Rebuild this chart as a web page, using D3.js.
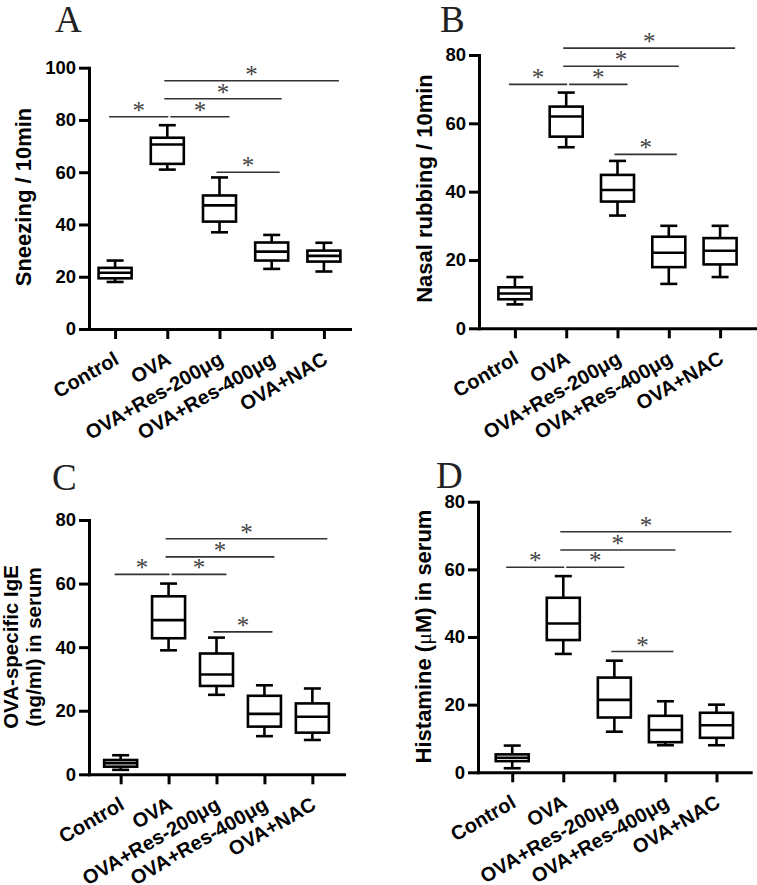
<!DOCTYPE html>
<html>
  <head>
    <meta charset="UTF-8">
    <title>Box plots A-D</title>
    <script src="https://d3js.org/d3.v7.min.js"></script>
    <style>
      body { margin: 0; background: #fff; }
      svg { display: block; }
    </style>
  </head>
  <body>
    <div id="chart"></div>
    <script>
      // Groups and tick values
      const categories = ["Control", "OVA", "OVA+Res-200μg", "OVA+Res-400μg", "OVA+NAC"];
      const ticks100 = [0, 20, 40, 60, 80, 100];
      const ticks80 = [0, 20, 40, 60, 80];

      // Box stats per group: [min, q1, median, q3, max]
      const sneezing = [
        [18, 19.4, 21.5, 23.4, 26.2],
        [61, 63.2, 70.6, 73.2, 78],
        [37, 41.1, 47.3, 51.1, 58],
        [23, 26.2, 29.6, 33.1, 36],
        [22, 25.8, 28, 30, 33]
      ];
      const rubbing = [
        [7, 8.5, 10.2, 12, 15],
        [53, 56.1, 62, 64.9, 69],
        [33, 37.1, 40.5, 44.9, 49],
        [13, 17.9, 22.1, 26.8, 30],
        [15, 18.7, 22.7, 26.4, 30]
      ];
      const ige = [
        [1.4, 2.4, 3.5, 4.5, 6],
        [39, 42.8, 48.5, 56, 60],
        [25, 27.8, 31.4, 38, 43],
        [12, 15, 19, 24.7, 28],
        [10.8, 13.1, 18.1, 22.3, 27]
      ];
      const histamine = [
        [1.2, 3.3, 4.3, 5.3, 7.9],
        [35, 39.1, 44, 51.6, 58],
        [12, 16.2, 21.4, 28, 33],
        [8, 8.9, 12.5, 16.7, 21],
        [8, 10.2, 13.9, 17.6, 20]
      ];

      // Significance bars: [group a, group b, bar level]
      const sigSneezing = [[0, 1, 81.2], [1, 2, 81.2], [1, 3, 88.1], [1, 4, 95], [2, 3, 60]];
      const sigRubbing = [[0, 1, 71.4], [1, 2, 71.4], [1, 3, 76.7], [1, 4, 82], [2, 3, 50.9]];
      const sigIge = [[0, 1, 62.9], [1, 2, 62.9], [1, 3, 68.4], [1, 4, 74.1], [2, 3, 44.8]];
      const sigHistamine = [[0, 1, 60.6], [1, 2, 60.6], [1, 3, 65.7], [1, 4, 71.1], [2, 3, 35.7]];

      const svg = d3.select("#chart")
        .append("svg")
        .attr("width", 757)
        .attr("height", 885);

      const panels = [
        { letter: "A", stats: sneezing, sig: sigSneezing, ticks: ticks100, max: 100,
          x0: 89, x1: 350, yTop: 67.7, yBot: 329, pad: 0.5,
          label: ["Sneezing / 10min"], lx: 31, ly: 197, px: 55, py: 32 },
        { letter: "B", stats: rubbing, sig: sigRubbing, ticks: ticks80, max: 80,
          x0: 479, x1: 756, yTop: 55, yBot: 328.3, pad: 0.7,
          label: ["Nasal rubbing / 10min"], lx: 432, ly: 188.5, px: 440, py: 32 },
        { letter: "C", stats: ige, sig: sigIge, ticks: ticks80, max: 80,
          x0: 89, x1: 344, yTop: 520, yBot: 774.3, pad: 0.66,
          label: ["OVA-specific IgE", "(ng/ml) in serum"], lx: 18, ly: 647, px: 52, py: 490 },
        { letter: "D", stats: histamine, sig: sigHistamine, ticks: ticks80, max: 80,
          x0: 478, x1: 750.7, yTop: 501.7, yBot: 772.3, pad: 0.67,
          label: null, lx: 431, ly: 636.5, px: 436, py: 488 }
      ];

      panels.forEach(p => {
        const g = svg.append("g");

        const x = d3.scalePoint().domain(categories).range([p.x0, p.x1]).padding(p.pad);
        const y = d3.scaleLinear().domain([0, p.max]).range([p.yBot, p.yTop]);

        // Panel letter
        g.append("text")
          .attr("x", p.px).attr("y", p.py)
          .attr("font-family", "Liberation Serif, serif")
          .attr("font-size", 37)
          .attr("fill", "#222")
          .text(p.letter);

        // Y axis
        const yAxis = g.append("g")
          .attr("transform", `translate(${p.x0},0)`)
          .call(d3.axisLeft(y).tickValues(p.ticks).tickSize(10).tickSizeOuter(0).tickPadding(3));
        yAxis.selectAll("text")
          .attr("font-family", "Liberation Sans, Arial, sans-serif")
          .attr("font-weight", "bold")
          .attr("font-size", 18.5)
          .attr("fill", "#000");

        // X axis
        const xAxis = g.append("g")
          .attr("transform", `translate(0,${p.yBot})`)
          .call(d3.axisBottom(x).tickSize(10).tickSizeOuter(0).tickFormat(""));

        [yAxis, xAxis].forEach(a => {
          a.select(".domain").attr("stroke", "#000").attr("stroke-width", 3).attr("stroke-linecap", "square");
          a.selectAll(".tick line").attr("stroke", "#000").attr("stroke-width", 3);
        });

        // Rotated group labels
        g.selectAll(".xlab")
          .data(categories)
          .enter()
          .append("text")
          .attr("class", "xlab")
          .attr("transform", d => `translate(${x(d) + 5},${p.yBot + 34}) rotate(-30)`)
          .attr("text-anchor", "end")
          .attr("font-family", "Liberation Sans, Arial, sans-serif")
          .attr("font-weight", "bold")
          .attr("font-size", 20)
          .attr("fill", "#000")
          .text(d => d);

        // Y label
        const yl = g.append("text")
          .attr("transform", `translate(${p.lx},${p.ly}) rotate(-90)`)
          .attr("text-anchor", "middle")
          .attr("font-family", "Liberation Sans, Arial, sans-serif")
          .attr("font-weight", "bold")
          .attr("font-size", p.label && p.label.length > 1 ? 20.5 : 22)
          .attr("fill", "#000");
        if (p.label) {
          p.label.forEach((line, i) => {
            yl.append("tspan").attr("x", 0).attr("y", i * 23).text(line);
          });
        } else {
          yl.append("tspan").text("Histamine (");
          yl.append("tspan").attr("font-family", "Liberation Serif, serif").attr("font-weight", "normal").text("μ");
          yl.append("tspan").text("M) in serum");
        }

        // Boxes
        const boxW = 33, capW = 17;
        const box = g.selectAll(".box")
          .data(p.stats)
          .enter()
          .append("g")
          .attr("class", "box")
          .attr("transform", (d, i) => `translate(${x(categories[i])},0)`)
          .attr("stroke", "#000")
          .attr("stroke-width", 2.6)
          .attr("fill", "none");

        box.append("line")
          .attr("x1", 0).attr("x2", 0)
          .attr("y1", d => y(d[0])).attr("y2", d => y(d[4]));
        box.append("line")
          .attr("x1", -capW / 2).attr("x2", capW / 2)
          .attr("y1", d => y(d[0])).attr("y2", d => y(d[0]));
        box.append("line")
          .attr("x1", -capW / 2).attr("x2", capW / 2)
          .attr("y1", d => y(d[4])).attr("y2", d => y(d[4]));
        box.append("rect")
          .attr("x", -boxW / 2)
          .attr("width", boxW)
          .attr("y", d => y(d[3]))
          .attr("height", d => y(d[1]) - y(d[3]))
          .attr("fill", "#fff");
        box.append("line")
          .attr("x1", -boxW / 2).attr("x2", boxW / 2)
          .attr("y1", d => y(d[2])).attr("y2", d => y(d[2]));

        // Significance bars with stars
        p.sig.forEach(([a, b, lvl]) => {
          let s = -3, e = 10;
          if (a === 0) { s = -6; e = 1; }
          if (a === 1 && b === 2) s = 3;
          if (b === 4) e = 15;
          if (a === 2) e = 8;
          const xa = x(categories[a]) + s;
          const xb = x(categories[b]) + e;
          g.append("line")
            .attr("x1", xa).attr("x2", xb)
            .attr("y1", y(lvl)).attr("y2", y(lvl))
            .attr("stroke", "#333")
            .attr("stroke-width", 1.6);
          g.append("text")
            .attr("x", (xa + xb) / 2)
            .attr("y", y(lvl) + 2)
            .attr("text-anchor", "middle")
            .attr("font-family", "Liberation Serif, serif")
            .attr("font-size", 25)
            .attr("fill", "#444")
            .text("*");
        });
      });
    </script>
  </body>
</html>
